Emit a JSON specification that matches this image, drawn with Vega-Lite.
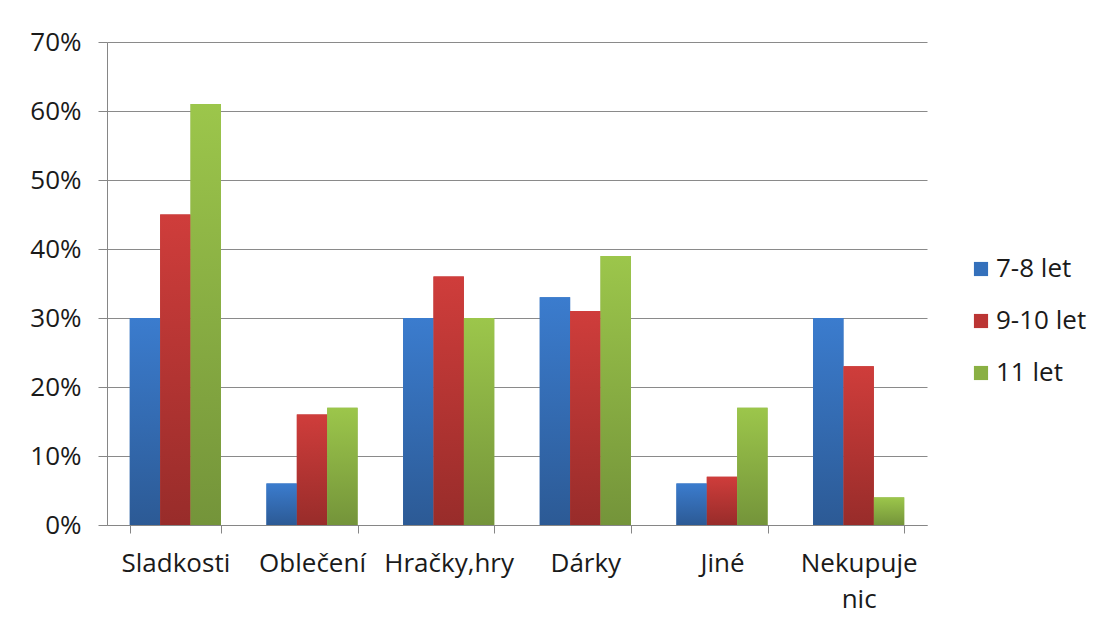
{
  "$schema": "https://vega.github.io/schema/vega-lite/v6.json",
  "autosize": {"type": "none"},
  "width": 820,
  "height": 483,
  "padding": {"left": 107, "top": 42, "right": 190, "bottom": 103},
  "background": "white",
  "config": {
    "view": {"stroke": null},
    "font": "Open Sans",
    "axis": {"labelFont": "Open Sans", "labelFontSize": 26, "labelColor": "#1a1a1a", "domainColor": "#868686", "tickColor": "#868686", "gridColor": "#8a8a8a", "gridWidth": 1, "title": null},
    "legend": {"labelFont": "Open Sans", "labelFontSize": 26, "labelColor": "#1a1a1a"}
  },
  "data": {
    "values": [
      {"kategorie": "Sladkosti", "skupina": "7-8 let", "podil": 0.30},
      {"kategorie": "Sladkosti", "skupina": "9-10 let", "podil": 0.45},
      {"kategorie": "Sladkosti", "skupina": "11 let", "podil": 0.61},
      {"kategorie": "Oblečení", "skupina": "7-8 let", "podil": 0.06},
      {"kategorie": "Oblečení", "skupina": "9-10 let", "podil": 0.16},
      {"kategorie": "Oblečení", "skupina": "11 let", "podil": 0.17},
      {"kategorie": "Hračky,hry", "skupina": "7-8 let", "podil": 0.30},
      {"kategorie": "Hračky,hry", "skupina": "9-10 let", "podil": 0.36},
      {"kategorie": "Hračky,hry", "skupina": "11 let", "podil": 0.30},
      {"kategorie": "Dárky", "skupina": "7-8 let", "podil": 0.33},
      {"kategorie": "Dárky", "skupina": "9-10 let", "podil": 0.31},
      {"kategorie": "Dárky", "skupina": "11 let", "podil": 0.39},
      {"kategorie": "Jiné", "skupina": "7-8 let", "podil": 0.06},
      {"kategorie": "Jiné", "skupina": "9-10 let", "podil": 0.07},
      {"kategorie": "Jiné", "skupina": "11 let", "podil": 0.17},
      {"kategorie": "Nekupuje nic", "skupina": "7-8 let", "podil": 0.30},
      {"kategorie": "Nekupuje nic", "skupina": "9-10 let", "podil": 0.23},
      {"kategorie": "Nekupuje nic", "skupina": "11 let", "podil": 0.04}
    ]
  },
  "encoding": {
    "x": {
      "field": "kategorie", "type": "nominal", "sort": null,
      "scale": {"paddingInner": 0.333, "paddingOuter": 0.1667},
      "axis": {"labelAngle": 0, "tickBand": "extent", "tickSize": 8, "labelPadding": 17, "labelLineHeight": 36, "labelBaseline": "top",
               "labelExpr": "datum.label == 'Nekupuje nic' ? ['Nekupuje', 'nic'] : datum.label"}
    },
    "xOffset": {"field": "skupina", "type": "nominal", "sort": ["7-8 let", "9-10 let", "11 let"], "scale": {"paddingInner": 0, "paddingOuter": 0}},
    "y": {
      "field": "podil", "type": "quantitative",
      "scale": {"domain": [0, 0.7], "nice": false},
      "axis": {"values": [0, 0.1, 0.2, 0.3, 0.4, 0.5, 0.6, 0.7], "format": ".0%", "tickSize": 9, "labelPadding": 17, "grid": true}
    }
  },
  "layer": [
    {
      "mark": {"type": "bar"},
      "encoding": {
        "color": {
          "field": "skupina", "type": "nominal", "sort": ["7-8 let", "9-10 let", "11 let"],
          "scale": {"domain": ["7-8 let", "9-10 let", "11 let"], "range": ["#3470bb", "#bb3534", "#8ab043"]},
          "legend": {"title": null, "orient": "none", "legendX": 861, "legendY": 214, "symbolType": "square", "symbolSize": 200, "symbolStrokeWidth": 0, "rowPadding": 26, "labelOffset": 2}
        }
      }
    },
    {
      "transform": [{"filter": "datum.skupina == '7-8 let'"}],
      "mark": {"type": "bar", "color": {"gradient": "linear", "x1": 0, "y1": 0, "x2": 0, "y2": 1, "stops": [{"offset": 0, "color": "#3b7cce"}, {"offset": 1, "color": "#2c5a95"}]}}
    },
    {
      "transform": [{"filter": "datum.skupina == '9-10 let'"}],
      "mark": {"type": "bar", "color": {"gradient": "linear", "x1": 0, "y1": 0, "x2": 0, "y2": 1, "stops": [{"offset": 0, "color": "#cf3d3b"}, {"offset": 1, "color": "#982c2a"}]}}
    },
    {
      "transform": [{"filter": "datum.skupina == '11 let'"}],
      "mark": {"type": "bar", "color": {"gradient": "linear", "x1": 0, "y1": 0, "x2": 0, "y2": 1, "stops": [{"offset": 0, "color": "#9cc64b"}, {"offset": 1, "color": "#74943a"}]}}
    }
  ]
}
